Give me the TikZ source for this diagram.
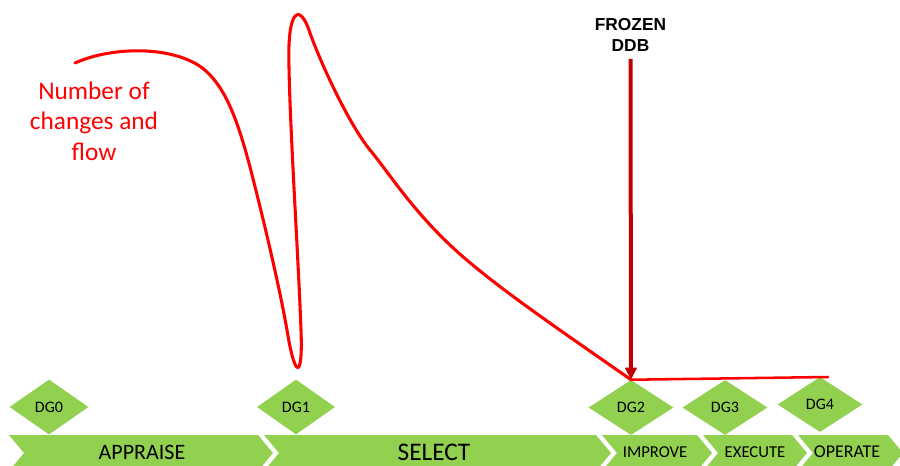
\documentclass[tikz,border=0pt]{standalone}
\usepackage{fontspec}
\setmainfont{Carlito}
\newfontfamily\boldsans{Liberation Sans}
\usetikzlibrary{arrows.meta,shapes.geometric}
\definecolor{GateGreen}{HTML}{92D050}
\definecolor{CurveRed}{HTML}{FF0000}
\definecolor{FreezeRed}{HTML}{C00000}

\begin{document}
\begin{tikzpicture}[x=0.75pt, y=-0.75pt,
    gate/.style={diamond, fill=GateGreen, inner sep=0pt, minimum width=63.75pt, minimum height=41.25pt, font=\fontsize{12}{14}\selectfont},
    stage/.style={fill=GateGreen},
    phase/.style={inner sep=0pt, font=\fontsize{12.5}{15}\selectfont},
    curve/.style={draw=CurveRed, line width=2.3pt, line cap=round},
    arrow/.style={-{Triangle[length=9pt,width=8.5pt]}, line width=3pt, draw=FreezeRed}
]
\useasboundingbox (0,0) rectangle (900,465);
\clip (0,0) rectangle (900,465);

% phase chevrons
\foreach \l/\r in {9/258,264/596,602/697,703/792,798/888}
  \fill[stage] (\l,435) -- (\r,435) -- (\r+15,453) -- (\r,471) -- (\l,471) -- (\l+15,453) -- cycle;
\node[phase, font=\fontsize{16.5}{18}\selectfont] (appraise) at (142,452) {APPRAISE};
\node[phase, font=\fontsize{19}{22}\selectfont] (select) at (434,452) {SELECT};
\node[phase] (improve) at (655,452) {IMPROVE};
\node[phase] (execute) at (755,452) {EXECUTE};
\node[phase, font=\fontsize{13.5}{16}\selectfont] (operate) at (847,452) {OPERATE};

% decision gates
\node[gate, minimum width=59.25pt] (dg0) at (49,407) {DG0};
\node[gate, minimum width=58.5pt] (dg1) at (296,407) {DG1};
\node[gate] (dg2) at (631,407.5) {DG2};
\node[gate] (dg3) at (725,407.5) {DG3};
\node[gate] (dg4) at (820,404.5) {DG4};

% labels
\node[text=CurveRed, align=center, font=\fontsize{19}{22.9}\selectfont] (changes) at (94,121) {Number of\\changes and\\flow};
\node[align=center, font=\boldsans\bfseries\fontsize{13}{15.75}\selectfont] (frozen) at (630.5,34.5) {FROZEN\\DDB};

% change curve
\draw[curve] (75,63) .. controls (115,45) and (180,46) .. (207,72)
  .. controls (227,91) and (238,122) .. (250,167)
  .. controls (265,225) and (280,290) .. (287,330)
  .. controls (295,380) and (303,380) .. (301,330)
  .. controls (299,270) and (290,130) .. (289,67)
  .. controls (287,8) and (300,2) .. (310,33)
  .. controls (323,69) and (351,127) .. (370,150)
  .. controls (389,173) and (410,207) .. (450,245)
  .. controls (490,283) and (560,330) .. (dg2.north);
\coordinate (lineend) at (828,377);
\draw[curve, line width=1.9pt] (dg2.north) -- (lineend);

\draw[arrow, shorten <=2.4pt] (frozen.south) -- (dg2.north);
\end{tikzpicture}
\end{document}
